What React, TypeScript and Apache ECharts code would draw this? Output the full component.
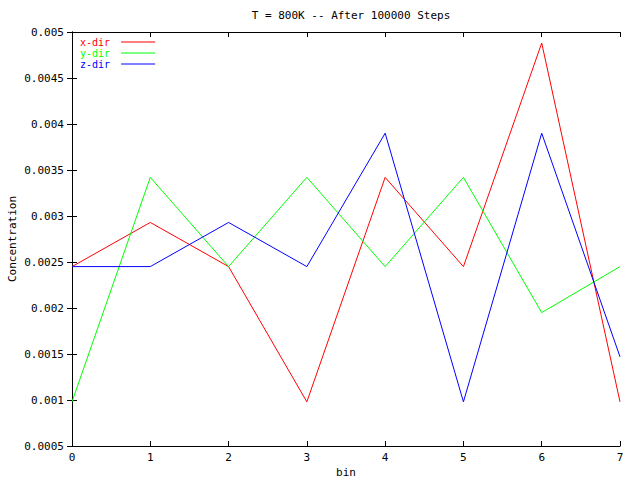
import React, { useEffect, useRef } from "react";
import * as echarts from "echarts";

const bins = [0, 1, 2, 3, 4, 5, 6, 7];
const xDir = [0.00245, 0.00293, 0.00245, 0.00098, 0.00342, 0.00245, 0.00488, 0.00098];
const yDir = [0.00098, 0.00342, 0.00245, 0.00342, 0.00245, 0.00342, 0.00195, 0.00245];
const zDir = [0.00245, 0.00245, 0.00293, 0.00245, 0.0039, 0.00098, 0.0039, 0.00147];
const seriesNames = ["x-dir", "y-dir", "z-dir"];
const seriesColors = ["#ff0000", "#00ff00", "#0000ff"];
const titleText = "T = 800K -- After 100000 Steps";

const FONT = "DejaVu Sans Mono";

export default function App() {
  const ref = useRef<HTMLDivElement>(null);
  useEffect(() => {
    if (!ref.current) return;
    const chart = echarts.init(ref.current, null, { renderer: "svg" });
    const values = [xDir, yDir, zDir];
    const fmt = (v: number) => String(parseFloat(v.toFixed(4)));
    const axisCommon = {
      axisLine: { show: true, lineStyle: { color: "#000", width: 1 } },
      axisTick: { show: true, inside: true, length: 5, lineStyle: { color: "#000" } },
      splitLine: { show: false },
    };
    chart.setOption({
      animation: false,
      backgroundColor: "#fff",
      textStyle: { fontFamily: FONT },
      title: {
        text: titleText,
        left: 346,
        top: 5,
        textAlign: "center",
        textStyle: { fontFamily: FONT, fontSize: 11, fontWeight: "normal", color: "#000" },
      },
      legend: {
        left: 80,
        top: 37,
        padding: 0,
        orient: "vertical",
        align: "right",
        itemWidth: 34,
        itemHeight: 1,
        itemGap: 1,
        icon: "rect",
        data: seriesNames.map((n, i) => ({
          name: n,
          textStyle: { color: seriesColors[i], fontFamily: FONT, fontSize: 10, lineHeight: 10, padding: [0, 6, 0, 0] },
        })),
        textStyle: { fontFamily: FONT, fontSize: 10, lineHeight: 10, padding: [0, 6, 0, 0] },
        itemStyle: { borderWidth: 0 },
      },
      grid: { left: 72, right: 20, top: 32, bottom: 34, containLabel: false, outerBoundsMode: "none" },
      xAxis: [
        {
          type: "value",
          min: 0,
          max: 7,
          interval: 1,
          name: "bin",
          nameLocation: "middle",
          nameGap: 21,
          nameMoveOverlap: false,
          nameTextStyle: { fontFamily: FONT, fontSize: 11, color: "#000" },
          axisLabel: { fontFamily: FONT, fontSize: 11, color: "#000", margin: 6 },
          ...axisCommon,
        },
        {
          type: "value",
          position: "top",
          min: 0,
          max: 7,
          interval: 1,
          axisLabel: { show: false },
          ...axisCommon,
        },
      ],
      yAxis: [
        {
          type: "value",
          min: 0.0005,
          max: 0.005,
          interval: 0.0005,
          name: "Concentration",
          nameLocation: "middle",
          nameGap: 54,
          nameMoveOverlap: false,
          nameRotate: 90,
          nameTextStyle: { fontFamily: FONT, fontSize: 11, color: "#000" },
          axisLabel: { fontFamily: FONT, fontSize: 11, color: "#000", margin: 8, formatter: fmt },
          ...axisCommon,
        },
        {
          type: "value",
          position: "right",
          min: 0.0005,
          max: 0.005,
          interval: 0.0005,
          axisLabel: { show: false },
          ...axisCommon,
        },
      ],
      series: seriesNames.map((n, i) => ({
        name: n,
        type: "line",
        data: bins.map((b, j) => [b, values[i][j]]),
        showSymbol: false,
        symbol: "none",
        lineStyle: { color: seriesColors[i], width: 1 },
        itemStyle: { color: seriesColors[i] },
        color: seriesColors[i],
      })),
    });
    return () => chart.dispose();
  }, []);
  return <div ref={ref} style={{ width: 640, height: 480, position: "absolute", left: 0, top: 0 }} />;
}
